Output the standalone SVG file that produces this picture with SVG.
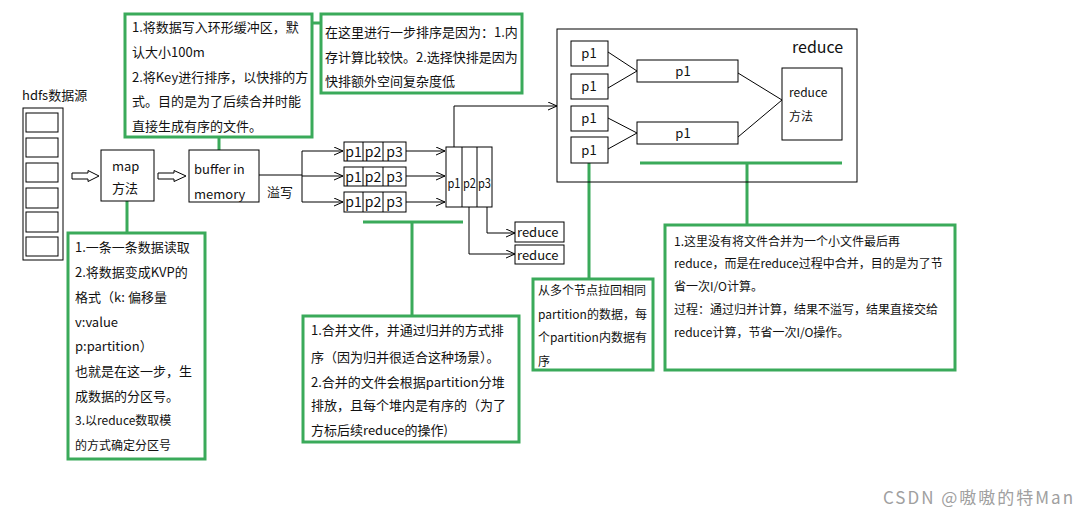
<svg xmlns="http://www.w3.org/2000/svg" width="1085" height="523" viewBox="0 0 1085 523">
<defs>
<marker id="oa" viewBox="0 0 9 9" refX="9" refY="4.5" markerWidth="9" markerHeight="9" markerUnits="userSpaceOnUse" orient="auto">
<path d="M0,0.5 L9,4.5 L0,8.5" fill="none" stroke="#000" stroke-width="1"/>
</marker>
<style>
text{font-family:"Noto Sans CJK SC","Noto Sans",sans-serif;fill:#111;}
.t13{font-size:13px;}
.t12{font-size:12px;}
.t14{font-size:14px;}
.box{fill:#fff;stroke:#000;stroke-width:1;}
.frame{fill:none;stroke:#000;stroke-width:1;}
.ln{fill:none;stroke:#000;stroke-width:1;}
.arr{fill:none;stroke:#000;stroke-width:1;marker-end:url(#oa);}
.g{fill:#fff;stroke:#3aaa5a;stroke-width:3;}
.gl{fill:none;stroke:#3aaa5a;stroke-width:3;}
.mid{text-anchor:middle;}
</style>
</defs>
<rect width="1085" height="523" fill="#fff"/>

<g id="connectors">
<polygon class="box" points="72,173 88,173 88,170.5 99,176 88,181.5 88,179 72,179"/>
<polygon class="box" points="158,173 174,173 174,170.5 186,176 174,181.5 174,179 158,179"/>
<path class="ln" d="M259,175 H302 M302,151 V202"/>
<path class="arr" d="M302,151 H343"/>
<path class="arr" d="M302,176 H343"/>
<path class="arr" d="M302,202 H343"/>
<path class="arr" d="M406,151 H445"/>
<path class="arr" d="M406,176 H445"/>
<path class="arr" d="M406,202 H445"/>
<path class="arr" d="M454,147 V106 H557"/>
<path class="arr" d="M487,207 V233 H515"/>
<path class="arr" d="M469,207 V254 H515"/>
<path class="ln" d="M608,52 L637,71 M608,88 L637,71 M608,118 L637,133 M608,149 L637,133 M738,73 L782,100 M738,137 L782,100"/>
<path class="gl" d="M219,137 V150 M312,23 H321 M127,201 V233 M363,222 H463 M412,222 V316 M589,163 V279 M640,163 H842 M747,163 V225"/>
</g>

<g id="hdfs">
<text class="t13" x="22" y="100">hdfs数据源</text>
<rect class="box" x="23" y="108" width="40" height="152"/>
<rect class="box" x="26" y="113" width="32" height="19"/>
<rect class="box" x="26" y="138" width="32" height="19"/>
<rect class="box" x="26" y="163" width="32" height="19"/>
<rect class="box" x="26" y="188" width="32" height="20"/>
<rect class="box" x="26" y="212" width="32" height="20"/>
<rect class="box" x="26" y="237" width="32" height="19"/>
</g>

<g id="map">
<rect class="box" x="101" y="150" width="53" height="51"/>
<text class="t13" x="112" y="171">map</text>
<text class="t13" x="112" y="193">方法</text>
</g>

<g id="buffer">
<rect class="box" x="189" y="150" width="70" height="52"/>
<text class="t13" x="194" y="174">buffer in</text>
<text class="t13" x="194" y="199">memory</text>
<text class="t13" x="267" y="197">溢写</text>
</g>

<g id="spill1">
<rect class="box" x="344" y="142" width="62" height="19"/>
<path class="ln" d="M363,142 V161 M383,142 V161"/>
<text class="t14 mid" x="353.5" y="157">p1</text><text class="t14 mid" x="373" y="157">p2</text><text class="t14 mid" x="394.5" y="157">p3</text>
</g>
<g id="spill2">
<rect class="box" x="344" y="167" width="62" height="19"/>
<path class="ln" d="M363,167 V186 M383,167 V186"/>
<text class="t14 mid" x="353.5" y="182">p1</text><text class="t14 mid" x="373" y="182">p2</text><text class="t14 mid" x="394.5" y="182">p3</text>
</g>
<g id="spill3">
<rect class="box" x="344" y="192" width="62" height="20"/>
<path class="ln" d="M363,192 V212 M383,192 V212"/>
<text class="t14 mid" x="353.5" y="207">p1</text><text class="t14 mid" x="373" y="207">p2</text><text class="t14 mid" x="394.5" y="207">p3</text>
</g>

<g id="merged">
<rect class="box" x="446" y="147" width="46" height="60"/>
<path class="ln" d="M462,147 V207 M477,147 V207"/>
<text x="454" y="188" class="mid" style="font-size:13px" textLength="13" lengthAdjust="spacingAndGlyphs">p1</text>
<text x="469.5" y="188" class="mid" style="font-size:13px" textLength="13" lengthAdjust="spacingAndGlyphs">p2</text>
<text x="484.5" y="188" class="mid" style="font-size:13px" textLength="13" lengthAdjust="spacingAndGlyphs">p3</text>
</g>

<g id="reduceOut1">
<rect class="box" x="515" y="222" width="49" height="20"/>
<text class="t13" x="517" y="237">reduce</text>
</g>
<g id="reduceOut2">
<rect class="box" x="515" y="245" width="49" height="19"/>
<text class="t13" x="517" y="260">reduce</text>
</g>

<g id="reduceArea">
<rect class="frame" x="557" y="29" width="300" height="153"/>
<text x="792" y="53" style="font-size:16px">reduce</text>
<rect class="box" x="571" y="41" width="37" height="25"/><text class="t13 mid" x="589" y="58">p1</text>
<rect class="box" x="571" y="74" width="37" height="25"/><text class="t13 mid" x="589" y="91">p1</text>
<rect class="box" x="571" y="106" width="37" height="25"/><text class="t13 mid" x="589" y="123">p1</text>
<rect class="box" x="571" y="137" width="37" height="26"/><text class="t13 mid" x="589" y="155">p1</text>
<rect class="box" x="637" y="60" width="101" height="22"/><text class="t13 mid" x="683" y="76">p1</text>
<rect class="box" x="637" y="122" width="101" height="22"/><text class="t13 mid" x="683" y="138">p1</text>
<rect class="box" x="782" y="68" width="60" height="72"/>
<text class="t12" x="789" y="97">reduce</text>
<text class="t12" x="789" y="121">方法</text>
</g>

<g id="note-buffer">
<rect class="g" x="125" y="14" width="187" height="123"/>
<text class="t13" x="132" y="32">1.将数据写入环形缓冲区，默</text>
<text class="t13" x="132" y="57">认大小100m</text>
<text class="t13" x="132" y="82">2.将Key进行排序，以快排的方</text>
<text class="t13" x="132" y="106">式。目的是为了后续合并时能</text>
<text class="t13" x="132" y="131">直接生成有序的文件。</text>
</g>

<g id="note-sort">
<rect class="g" x="321" y="14" width="201" height="79"/>
<text class="t13" x="325" y="37">在这里进行一步排序是因为：1.内</text>
<text class="t13" x="325" y="62">存计算比较快。2.选择快排是因为</text>
<text class="t13" x="325" y="86">快排额外空间复杂度低</text>
</g>

<g id="note-map">
<rect class="g" x="68" y="233" width="137" height="226"/>
<text class="t13" x="75" y="252">1.一条一条数据读取</text>
<text class="t13" x="75" y="277">2.将数据变成KVP的</text>
<text class="t13" x="75" y="302">格式（k: 偏移量</text>
<text class="t13" x="75" y="327">v:value</text>
<text class="t13" x="75" y="351">p:partition）</text>
<text class="t13" x="75" y="376">也就是在这一步，生</text>
<text class="t13" x="75" y="401">成数据的分区号。</text>
<text class="t12" x="75" y="425">3.以reduce数取模</text>
<text class="t12" x="75" y="450">的方式确定分区号</text>
</g>

<g id="note-merge">
<rect class="g" x="303" y="316" width="216" height="126"/>
<text class="t13" x="311" y="335">1.合并文件，并通过归并的方式排</text>
<text class="t13" x="311" y="362">序（因为归并很适合这种场景）。</text>
<text class="t13" x="311" y="387">2.合并的文件会根据partition分堆</text>
<text class="t13" x="311" y="410">排放，且每个堆内是有序的（为了</text>
<text class="t13" x="311" y="435">方标后续reduce的操作)</text>
</g>

<g id="note-pull">
<rect class="g" x="533" y="279" width="120" height="91"/>
<text class="t12" x="538" y="295">从多个节点拉回相同</text>
<text class="t12" x="538" y="319">partition的数据，每</text>
<text class="t12" x="538" y="342">个partition内数据有</text>
<text class="t12" x="538" y="366">序</text>
</g>

<g id="note-reduce">
<rect class="g" x="665" y="225" width="290" height="145"/>
<text class="t12" x="674" y="246">1.这里没有将文件合并为一个小文件最后再</text>
<text class="t12" x="674" y="268">reduce，而是在reduce过程中合并，目的是为了节</text>
<text class="t12" x="674" y="291">省一次I/O计算。</text>
<text class="t12" x="674" y="314">过程：通过归并计算，结果不溢写，结果直接交给</text>
<text class="t12" x="674" y="337">reduce计算，节省一次I/O操作。</text>
</g>

<text x="883" y="504" style="font-size:17px;fill:#a0a0a0" textLength="190" lengthAdjust="spacing">CSDN @嗷嗷的特Man</text>
</svg>
